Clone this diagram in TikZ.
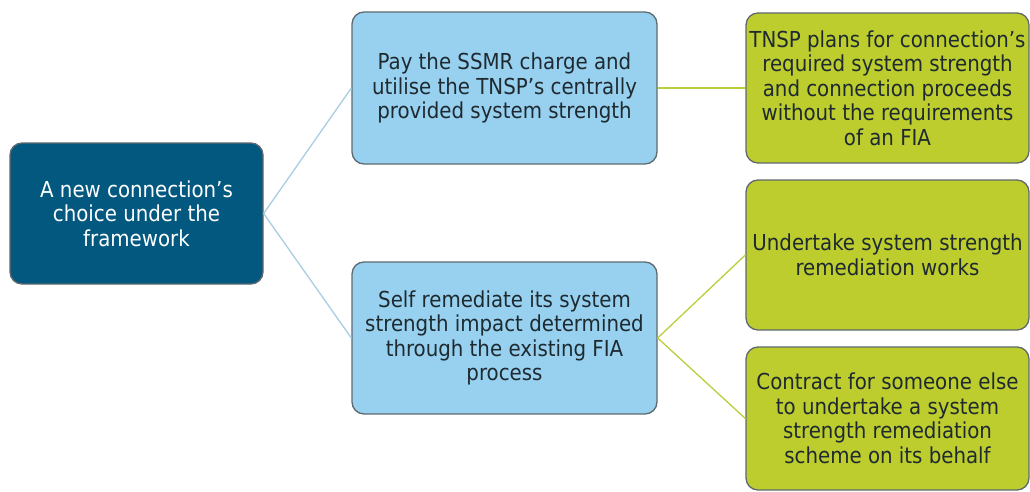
\documentclass[tikz,border=0pt]{standalone}
\usepackage{fontspec}
\setmainfont{DejaVu Sans Condensed}
\definecolor{rootfill}{HTML}{03587F}
\definecolor{bluefill}{HTML}{98D1F0}
\definecolor{greenfill}{HTML}{BDCD2E}
\definecolor{boxline}{HTML}{5E6A70}
\definecolor{txt}{HTML}{1E2A30}
\definecolor{blueline}{HTML}{A9CDE2}
\definecolor{greenline}{HTML}{BCCD3C}
\tikzset{
  box/.style={rectangle, rounded corners=12pt, draw=boxline, line width=1.3pt,
    align=center, inner sep=0pt, font=\fontsize{22}{24.5}\selectfont, text=txt},
  rootbox/.style={box, fill=rootfill, text=white, minimum width=253pt, minimum height=141pt},
  bluebox/.style={box, fill=bluefill, minimum width=305pt, minimum height=152pt},
  greenbox/.style={box, fill=greenfill, minimum width=283pt},
  bconn/.style={draw=blueline, line width=1.3pt},
  gconn/.style={draw=greenline, line width=1.3pt}
}
\begin{document}
\begin{tikzpicture}[x=1pt,y=-1pt]
\useasboundingbox (0,0) rectangle (1030,492);
\node[rootbox] (root) at (136.5,213.5) {A new connection’s\\choice under the\\framework};
\node[bluebox] (b1) at (504.5,88) {Pay the SSMR charge and\\utilise the TNSP’s centrally\\provided system strength};
\node[bluebox] (b2) at (504.5,338) {Self remediate its system\\strength impact determined\\through the existing FIA\\process};
\node[greenbox, minimum height=150pt] (g1) at (887.5,88) {TNSP plans for connection’s\\required system strength\\and connection proceeds\\without the requirements\\of an FIA};
\node[greenbox, minimum height=150pt] (g2) at (887.5,255) {Undertake system strength\\remediation works};
\node[greenbox, minimum height=143pt] (g3) at (887.5,418.5) {Contract for someone else\\to undertake a system\\strength remediation\\scheme on its behalf};
\path[bconn] (root.east) -- (b1.west);
\path[bconn] (root.east) -- (b2.west);
\path[gconn] (b1.east) -- (g1.west);
\path[gconn] (b2.east) -- (g2.west);
\path[gconn] (b2.east) -- (g3.west);
\end{tikzpicture}
\end{document}
